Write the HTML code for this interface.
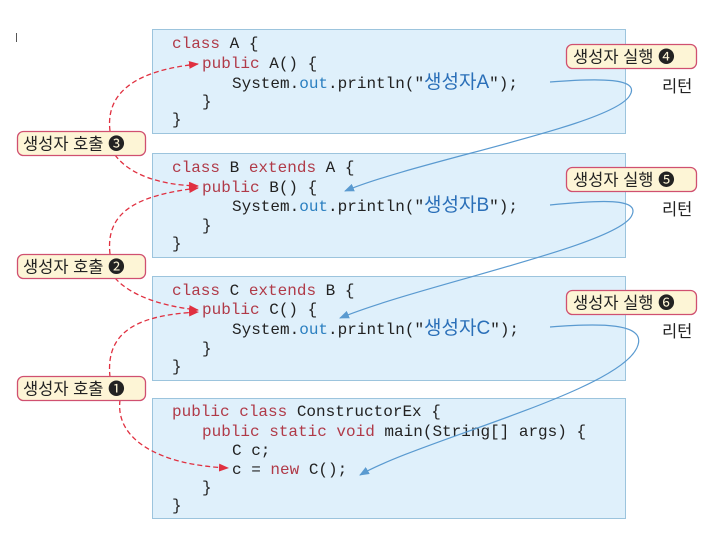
<!DOCTYPE html>
<html><head><meta charset="utf-8"><style>
body{margin:0;background:#fff;}
svg{display:block}
.c{font-family:"Liberation Mono","Noto Sans CJK KR",monospace;font-size:16px;fill:#222}
.k{fill:#b03a48}.o{fill:#2a7fc0}
.s{font-family:"Liberation Sans","Noto Sans CJK KR",sans-serif;fill:#2a6fb8;font-size:19px}
.l{font-family:"Liberation Sans","Noto Sans CJK KR",sans-serif;font-size:16.5px;fill:#222}
</style></head><body>
<svg width="717" height="546" viewBox="0 0 717 546">
<defs>
<marker id="r" markerWidth="10" markerHeight="8" refX="9" refY="4" orient="auto" markerUnits="userSpaceOnUse"><path d="M0,0L10,4L0,8z" fill="#e03040"/></marker>
<marker id="b" markerWidth="10" markerHeight="8" refX="9" refY="4" orient="auto" markerUnits="userSpaceOnUse"><path d="M0,0L10,4L0,8z" fill="#5a9ad0"/></marker>
</defs>
<g fill="#dff0fb" stroke="#9cc4dd" stroke-width="1">
<rect x="152.5" y="29.5" width="473" height="104"/>
<rect x="152.5" y="153.5" width="473" height="104"/>
<rect x="152.5" y="276.5" width="473" height="104"/>
<rect x="152.5" y="398.5" width="473" height="120"/>
</g>
<g class="c">
<text x="172" y="48"><tspan class="k">class</tspan> A {</text>
<text x="202" y="68"><tspan class="k">public</tspan> A() {</text>
<text x="232" y="88">System.<tspan class="o">out</tspan>.println("<tspan class="s">생성자A</tspan>");</text>
<text x="202" y="106">}</text>
<text x="172" y="124">}</text>
<text x="172" y="172"><tspan class="k">class</tspan> B <tspan class="k">extends</tspan> A {</text>
<text x="202" y="192"><tspan class="k">public</tspan> B() {</text>
<text x="232" y="211">System.<tspan class="o">out</tspan>.println("<tspan class="s">생성자B</tspan>");</text>
<text x="202" y="230">}</text>
<text x="172" y="248">}</text>
<text x="172" y="295"><tspan class="k">class</tspan> C <tspan class="k">extends</tspan> B {</text>
<text x="202" y="314"><tspan class="k">public</tspan> C() {</text>
<text x="232" y="334">System.<tspan class="o">out</tspan>.println("<tspan class="s">생성자C</tspan>");</text>
<text x="202" y="353">}</text>
<text x="172" y="371">}</text>
<text x="172" y="416"><tspan class="k">public class</tspan> ConstructorEx {</text>
<text x="202" y="436"><tspan class="k">public static void</tspan> main(String[] args) {</text>
<text x="232" y="455">C c;</text>
<text x="232" y="474">c = <tspan class="k">new</tspan> C();</text>
<text x="202" y="492">}</text>
<text x="172" y="510">}</text>
</g>
<g fill="none" stroke="#e03040" stroke-width="1.3" stroke-dasharray="5,3">
<path d="M110,131 C105,90 140,70 198,64" marker-end="url(#r)"/>
<path d="M115,155 C130,175 160,185 198,186" marker-end="url(#r)"/>
<path d="M110,254 C105,210 140,195 198,188" marker-end="url(#r)"/>
<path d="M115,278 C130,295 160,306 198,310" marker-end="url(#r)"/>
<path d="M110,377 C105,330 140,315 198,312" marker-end="url(#r)"/>
<path d="M120,400 C115,440 160,465 228,468" marker-end="url(#r)"/>
</g>
<g fill="none" stroke="#5a9ad0" stroke-width="1.2">
<path d="M550,82 C600,78 640,78 630,95 C615,125 420,160 345,191" marker-end="url(#b)"/>
<path d="M550,205 C600,200 640,198 632,215 C620,245 420,285 340,318" marker-end="url(#b)"/>
<path d="M550,327 C600,323 645,323 638,345 C625,390 420,440 360,475" marker-end="url(#b)"/>
</g>
<g stroke="#d05070" stroke-width="1.3" fill="#fdf5d6">
<rect x="17.5" y="131.5" width="128" height="24" rx="6"/>
<rect x="17.5" y="254.5" width="128" height="24" rx="6"/>
<rect x="17.5" y="376.5" width="128" height="24" rx="6"/>
<rect x="566.5" y="44.5" width="130" height="24" rx="6"/>
<rect x="566.5" y="167.5" width="130" height="24" rx="6"/>
<rect x="566.5" y="290.5" width="130" height="24" rx="6"/>
</g>
<g class="l">
<text x="23" y="149.5">생성자 호출 ❸</text>
<text x="23" y="272.5">생성자 호출 ❷</text>
<text x="23" y="394.5">생성자 호출 ❶</text>
<text x="573" y="62.5">생성자 실행 ❹</text>
<text x="573" y="185.5">생성자 실행 ❺</text>
<text x="573" y="308.5">생성자 실행 ❻</text>
<text x="662" y="92">리턴</text>
<text x="662" y="215">리턴</text>
<text x="662" y="337">리턴</text>
</g>
<rect x="16" y="33" width="1" height="9" fill="#555"/>
</svg>
</body></html>
